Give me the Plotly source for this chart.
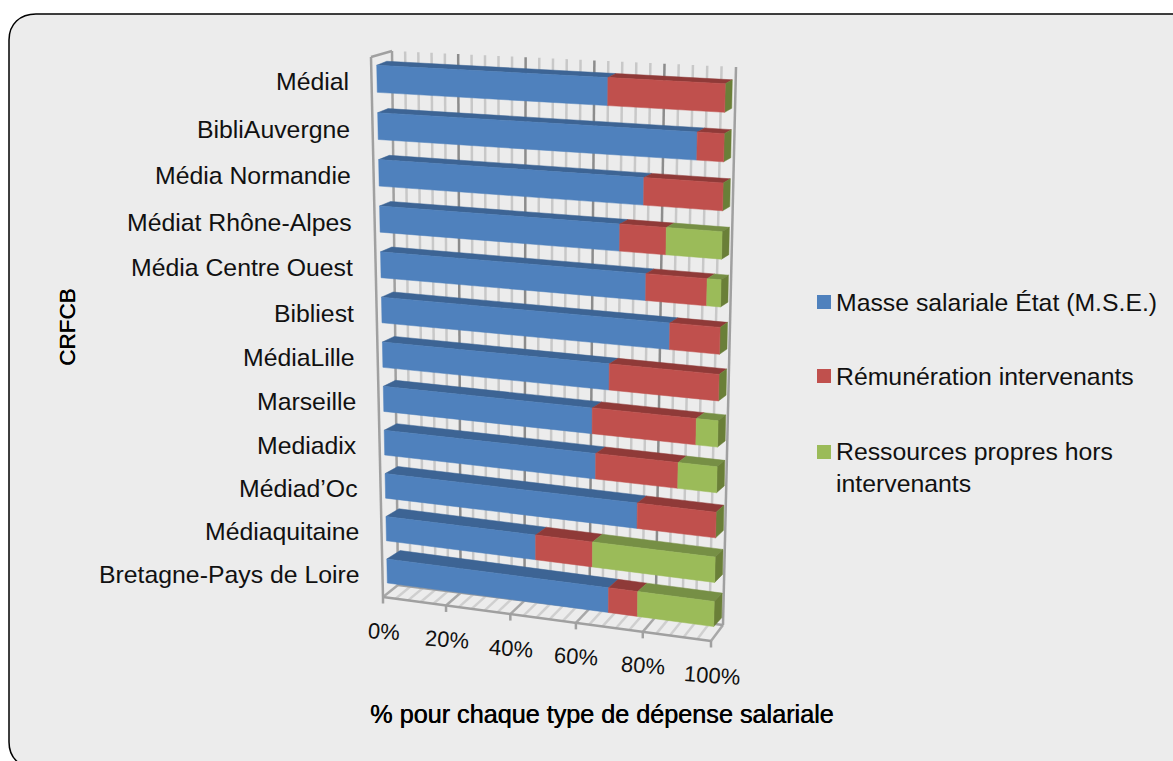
import plotly.graph_objects as go

categories = ["Médial", "BibliAuvergne", "Média Normandie", "Médiat Rhône-Alpes", "Média Centre Ouest",
              "Bibliest", "MédiaLille", "Marseille", "Mediadix", "Médiad’Oc", "Médiaquitaine",
              "Bretagne-Pays de Loire"]
mse = [67.5, 92.6, 77.9, 71.2, 78.8, 85.8, 68.5, 63.6, 64.7, 77.1, 46.7, 68.8]
remuneration = [32.5, 7.4, 22.1, 13.2, 17.3, 14.2, 31.5, 30.2, 24.1, 22.9, 17.2, 8.7]
ressources = [0, 0, 0, 15.6, 3.9, 0, 0, 6.2, 11.2, 0, 36.1, 22.5]
series_names = ["Masse salariale État (M.S.E.)", "Rémunération intervenants", "Ressources propres hors<br>intervenants"]
axis_ticks = [0, 20, 40, 60, 80, 100]
grid_values = [0, 4, 8, 12, 16, 20, 24, 28, 32, 36, 40, 44, 48, 52, 56, 60, 64, 68, 72, 76, 80, 84, 88, 92, 96, 100]
x_title = "% pour chaque type de dépense salariale"
y_title = "CRFCB"

FRONT = ["#4F81BD", "#C0504D", "#9BBB59"]
TOP = ["#3D6494", "#8F3A38", "#768F45"]
SIDE = "#6A7F38"
FONT = "Liberation Sans"


def homography(c):
    (x0, y0), (x1, y1), (x2, y2), (x3, y3) = c
    dx1, dx2, sx = x1 - x2, x3 - x2, x0 - x1 + x2 - x3
    dy1, dy2, sy = y1 - y2, y3 - y2, y0 - y1 + y2 - y3
    den = dx1 * dy2 - dx2 * dy1
    g = (sx * dy2 - dx2 * sy) / den
    h = (dx1 * sy - sx * dy1) / den
    a, b, d, e = x1 - x0 + g * x1, x3 - x0 + h * x3, y1 - y0 + g * y1, y3 - y0 + h * y3

    def f(u, v):
        w = g * u + h * v + 1
        return (a * u + b * v + x0) / w, (d * u + e * v + y0) / w
    return f


# projection planes (screen geometry of the oblique 3-D view): TL, TR, BR, BL
bar_front = homography([(376.5, 55), (725.5, 73), (713.5, 636), (387.5, 592)])
bar_back = homography([(386.5, 51), (732.5, 69), (721.5, 627), (401, 583)])
wall = homography([(392, 51), (736, 67), (723, 625), (398, 585)])
front_plane = homography([(371, 57), (723, 75), (711, 641), (383, 597)])

BAND = 0.57


def polyline(pairs):
    xs, ys = [], []
    for a, b in pairs:
        xs += [a[0], b[0], None]
        ys += [a[1], b[1], None]
    return xs, ys


def line_trace(pairs, color, width):
    xs, ys = polyline(pairs)
    return go.Scatter(x=xs, y=ys, mode="lines", line=dict(color=color, width=width), hoverinfo="skip", showlegend=False)


def poly_trace(polys, color, name):
    xs, ys = [], []
    for p in polys:
        xs += [q[0] for q in p] + [p[0][0], None]
        ys += [q[1] for q in p] + [p[0][1], None]
    return go.Scatter(x=xs, y=ys, mode="lines", fill="toself", fillcolor=color, name=name,
                      line=dict(color=color, width=0.5), hoverinfo="skip", showlegend=False)


fig = go.Figure()

# back wall and floor grid
is_major = lambda g: g in axis_ticks
fig.add_trace(line_trace([(wall(g / 100, 0), wall(g / 100, 1)) for g in grid_values if not is_major(g)], "#C8C8C8", 2.5))
fig.add_trace(line_trace([(wall(g / 100, 0), wall(g / 100, 1)) for g in grid_values if is_major(g) and 0 < g < 100], "#8C8C8C", 2.5))
fig.add_trace(line_trace([(wall(g / 100, 1), front_plane(g / 100, 1)) for g in grid_values if not is_major(g)], "#CFCFCF", 2.5))
fig.add_trace(line_trace([(wall(g / 100, 1), front_plane(g / 100, 1)) for g in grid_values if is_major(g)], "#A8A8A8", 2.5))
frame = [
    (wall(0, 0), wall(0, 1)), (wall(1, 0), wall(1, 1)), (wall(0, 1), wall(1, 1)),
    (front_plane(0, 1), front_plane(1, 1)),
    (front_plane(0, 0), wall(0, 0)), (front_plane(0, 0), front_plane(0, 1)),
]
frame += [(front_plane(t / 100, 1), (front_plane(t / 100, 1)[0], front_plane(t / 100, 1)[1] + 6.5)) for t in axis_ticks]
fig.add_trace(line_trace(frame, "#A0A0A0", 2.5))

# stacked 3-D bars
tops = [[], [], []]
fronts = [[], [], []]
sides = []
for i in range(len(categories)):
    v0 = (i + (1 - BAND) / 2) / 12
    v1 = (i + (1 + BAND) / 2) / 12
    start = 0.0
    for s, values in enumerate([mse, remuneration, ressources]):
        end = start + values[i]
        if values[i] > 0:
            a, b = start / 100, end / 100
            fronts[s].append([bar_front(a, v0), bar_front(b, v0), bar_front(b, v1), bar_front(a, v1)])
            tops[s].append([bar_back(a, v0), bar_back(b, v0), bar_front(b, v0), bar_front(a, v0)])
        start = end
    sides.append([bar_front(1, v0), bar_back(1, v0), bar_back(1, v1), bar_front(1, v1)])

for s in range(3):
    fig.add_trace(poly_trace(tops[s], TOP[s], series_names[s].replace("<br>", " ")))
fig.add_trace(poly_trace(sides, SIDE, series_names[2].replace("<br>", " ")))
for s in range(3):
    fig.add_trace(poly_trace(fronts[s], FRONT[s], series_names[s].replace("<br>", " ")))

annotations = []
for i, c in enumerate(categories):
    x, y = bar_front(0, (i + 0.5) / 12)
    annotations.append(dict(x=x - 25.5, y=y + 3, text=c, xanchor="right", yanchor="middle", showarrow=False,
                            font=dict(family=FONT, size=24.8, color="#111111")))
for t in axis_ticks:
    x, y = front_plane(t / 100, 1)
    annotations.append(dict(x=x + 0.5, y=y + 34, text=f"{t}%", xanchor="center", yanchor="middle", showarrow=False,
                            textangle=4, font=dict(family=FONT, size=22, color="#111111")))
annotations.append(dict(x=602, y=714, text=x_title, xanchor="center", yanchor="middle", showarrow=False,
                        font=dict(family=FONT, size=25.2, color="#000000", shadow="0.5px 0 0 #000000")))
annotations.append(dict(x=67, y=327, text=y_title, xanchor="center", yanchor="middle", showarrow=False, textangle=-90,
                        font=dict(family=FONT, size=22.5, color="#000000", shadow="0.5px 0 0 #000000")))

shapes = [dict(type="path", xref="x", yref="y", layer="below",
               path="M 9,40 C 9,24 20,14 36,14 L 1240,14 L 1240,768 L 36,768 C 20,768 9,758 9,742 Z",
               fillcolor="#ECECEC", line=dict(color="#000000", width=1.5))]
for s, ly, ty in [(0, 302, 302), (1, 376, 376), (2, 452, 467)]:
    shapes.append(dict(type="rect", xref="x", yref="y", x0=817, x1=831, y0=ly - 7, y1=ly + 7, layer="above",
                       fillcolor=FRONT[s], line=dict(width=0)))
    annotations.append(dict(x=834, y=ty, text=series_names[s], xanchor="left", yanchor="middle", align="left", showarrow=False,
                            font=dict(family=FONT, size=24.8, color="#111111")))

fig.update_layout(
    width=1173, height=761, margin=dict(l=0, r=0, t=0, b=0),
    paper_bgcolor="#FFFFFF", plot_bgcolor="rgba(0,0,0,0)", showlegend=False,
    xaxis=dict(range=[0, 1173], visible=False, fixedrange=True),
    yaxis=dict(range=[761, 0], visible=False, fixedrange=True),
    shapes=shapes, annotations=annotations,
)
fig.write_html("out.html", config=dict(displayModeBar=False),
               post_script="document.body.style.margin='0';document.documentElement.style.overflow='hidden';")
